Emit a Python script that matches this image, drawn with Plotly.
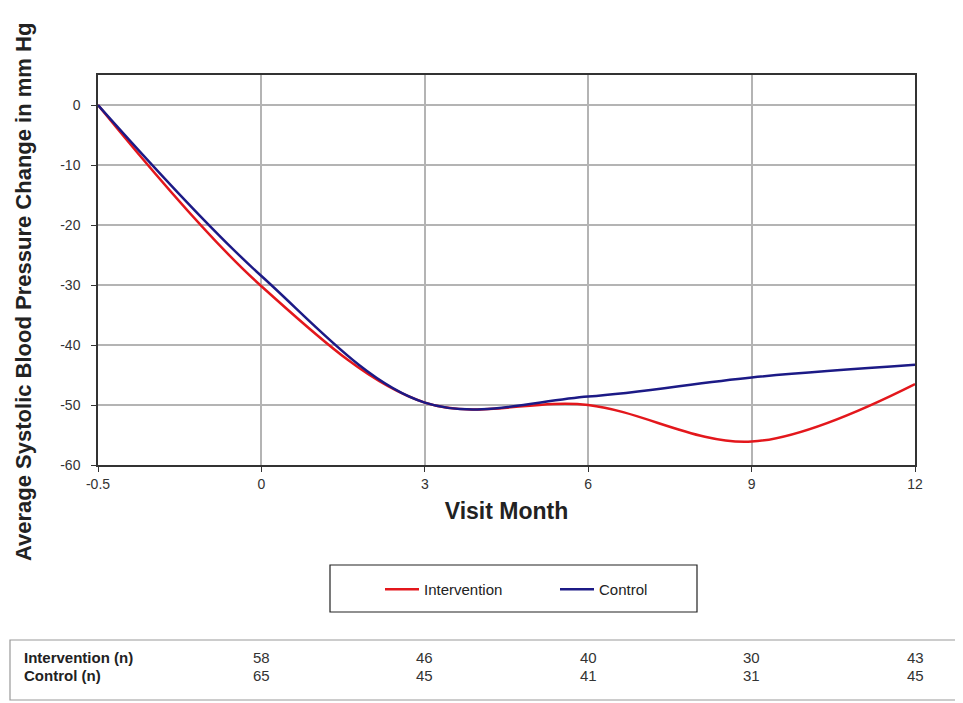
import plotly.graph_objects as go

months = ["-0.5", "0", "3", "6", "9", "12"]
intervention = [0, -30.2, -49.6, -50.0, -56.1, -46.5]
control = [0, -28.5, -49.6, -48.6, -45.4, -43.3]
table_months = ["0", "3", "6", "9", "12"]
intervention_n = [58, 46, 40, 30, 43]
control_n = [65, 45, 41, 31, 45]
y_ticks = [0, -10, -20, -30, -40, -50, -60]
y_ticktext = ["0", "-10", "-20", "-30", "-40", "-50", "-60"]

FONT = "Liberation Sans, Arial, sans-serif"
NARROW = "Liberation Sans Narrow, Arial Narrow, Liberation Sans, sans-serif"

OFF = 8  # page body margin
W, H = 963, 703
L, T = 98 - OFF, 75 - OFF
R = W - (915 - OFF)
B = H - (465 - OFF)
pw, ph = W - L - R, H - T - B

def px(xp):
    return (xp - OFF - L) / pw

def py(yp):
    return (H - B - (yp - OFF)) / ph

fig = go.Figure()
fig.add_trace(go.Scatter(x=months, y=intervention, name="Intervention", mode="lines",
                         line=dict(color="#e3171c", width=2.5, shape="spline", smoothing=1.0)))
fig.add_trace(go.Scatter(x=months, y=control, name="Control", mode="lines",
                         line=dict(color="#1c1a86", width=2.5, shape="spline", smoothing=1.0)))

fig.update_layout(
    width=W, height=H,
    margin=dict(l=L, r=R, t=T, b=B),
    paper_bgcolor="white", plot_bgcolor="white",
    font=dict(family=FONT, size=14, color="#333333"),
    showlegend=True,
    legend=dict(orientation="h", x=px(380), xanchor="left", y=py(573), yanchor="top",
                font=dict(family=NARROW, size=15, color="#222222"),
                bgcolor="rgba(0,0,0,0)", entrywidth=126, itemwidth=34),
    xaxis=dict(type="category", categoryorder="array", categoryarray=months,
               range=[0, 5], showgrid=True, gridcolor="#b4b4b4", gridwidth=2,
               showline=True, linecolor="#333333", linewidth=1.5, mirror=True,
               ticks="outside", ticklen=5, tickcolor="#333333",
               tickfont=dict(size=14, color="#333333"),
               title=dict(text="<b>Visit Month</b>", font=dict(size=23, color="#222222"), standoff=12),
               zeroline=False),
    yaxis=dict(range=[-60, 5], tickvals=y_ticks, ticktext=y_ticktext, showgrid=True,
               gridcolor="#b4b4b4", gridwidth=2,
               showline=True, linecolor="#333333", linewidth=1.5, mirror=True,
               ticks="outside", ticklen=5, tickcolor="#333333", ticklabelstandoff=8,
               tickfont=dict(size=14, color="#333333"), zeroline=False),
)

annotations = [
    dict(text="<b>Average Systolic Blood Pressure Change in mm Hg</b>", textangle=-90,
         xref="paper", yref="paper", x=px(23), y=py(292), xanchor="center", yanchor="middle",
         showarrow=False, font=dict(size=22, color="#222222")),
    dict(text="<b>Intervention (n)</b>", xref="paper", yref="paper", x=px(22), y=py(657),
         xanchor="left", yanchor="middle", showarrow=False,
         font=dict(family=NARROW, size=15, color="#222222")),
    dict(text="<b>Control (n)</b>", xref="paper", yref="paper", x=px(22), y=py(675),
         xanchor="left", yanchor="middle", showarrow=False,
         font=dict(family=NARROW, size=15, color="#222222")),
]
for m, n in zip(table_months, intervention_n):
    annotations.append(dict(text=str(n), xref="x", yref="paper", x=months.index(m), y=py(657),
                            xanchor="center", yanchor="middle", showarrow=False,
                            font=dict(family=NARROW, size=15, color="#333333")))
for m, n in zip(table_months, control_n):
    annotations.append(dict(text=str(n), xref="x", yref="paper", x=months.index(m), y=py(675),
                            xanchor="center", yanchor="middle", showarrow=False,
                            font=dict(family=NARROW, size=15, color="#333333")))
fig.update_layout(annotations=annotations)

fig.update_layout(shapes=[
    dict(type="rect", xref="paper", yref="paper", x0=px(330), x1=px(697), y0=py(565), y1=py(612),
         line=dict(color="#222222", width=1.2), fillcolor="rgba(0,0,0,0)", layer="below"),
    dict(type="rect", xref="paper", yref="paper", x0=px(10), x1=px(975), y0=py(640), y1=py(700),
         line=dict(color="#999999", width=1.2), fillcolor="rgba(0,0,0,0)", layer="below"),
])

fig.write_html("out.html")
